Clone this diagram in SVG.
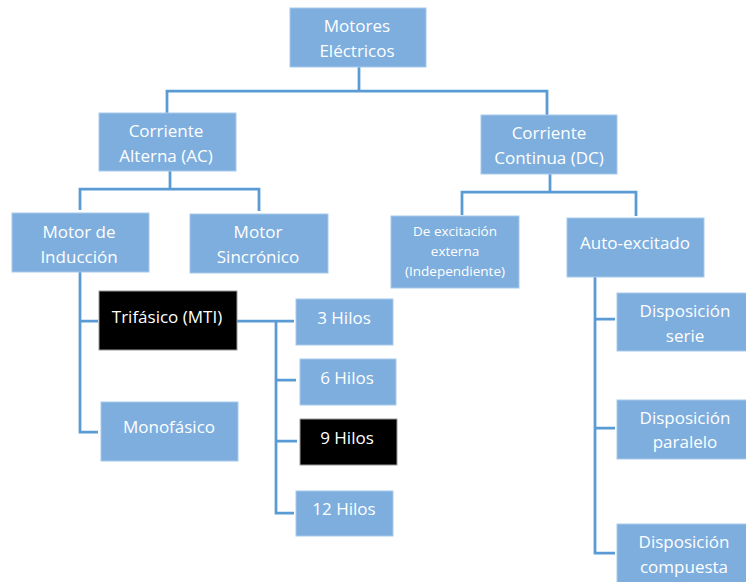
<svg xmlns="http://www.w3.org/2000/svg" width="746" height="582" viewBox="0 0 746 582">
  <style>
    .box { fill: #7DAEDE; stroke: #A8CAEB; stroke-width: 1; }
    .dark { fill: #000000; stroke: #9A9A9A; stroke-width: 1; }
    .lbl { font-family: "Open Sans", "Liberation Sans", sans-serif; font-size: 17px; fill: #FFFFFF; text-anchor: middle; }
    .sm { font-size: 13.5px; }
    .wire { fill: none; stroke: #5B9BD5; stroke-width: 2.75; stroke-linejoin: miter; }
  </style>
  <rect width="746" height="582" fill="#FFFFFF"/>

  <!-- connectors -->
  <g id="connectors">
    <path class="wire" d="M359 67 V91 M167 113 V91 H547 V115"/>
    <path class="wire" d="M170 171 V189 M80 210 V189 H259 V211"/>
    <path class="wire" d="M550 174 V192 M462 215 V192 H636 V216"/>
    <path class="wire" d="M80 272 V432 H98 M80 321 H98"/>
    <path class="wire" d="M237 321 H294 M276 321 V513 H294 M276 380 H296 M276 441 H297"/>
    <path class="wire" d="M595 277 V553 H615 M595 319 H615 M595 428 H615"/>
  </g>

  <g id="motores">
    <rect class="box" x="290" y="8" width="136" height="59"/>
    <text class="lbl" x="357" y="32">Motores</text>
    <text class="lbl" x="357" y="57">Eléctricos</text>
  </g>

  <g id="ac">
    <rect class="box" x="99" y="113" width="137" height="58"/>
    <text class="lbl" x="166" y="137">Corriente</text>
    <text class="lbl" x="166" y="162">Alterna (AC)</text>
  </g>

  <g id="dc">
    <rect class="box" x="481" y="115" width="136" height="59"/>
    <text class="lbl" x="549" y="139">Corriente</text>
    <text class="lbl" x="549" y="164">Continua (DC)</text>
  </g>

  <g id="induccion">
    <rect class="box" x="12" y="213" width="137" height="59"/>
    <text class="lbl" x="79" y="238">Motor de</text>
    <text class="lbl" x="79" y="263">Inducción</text>
  </g>

  <g id="sincronico">
    <rect class="box" x="190" y="214" width="138" height="59"/>
    <text class="lbl" x="258" y="238">Motor</text>
    <text class="lbl" x="258" y="263">Sincrónico</text>
  </g>

  <g id="excitacion-externa">
    <rect class="box" x="391" y="216" width="128" height="72"/>
    <text class="lbl sm" x="455" y="236">De excitación</text>
    <text class="lbl sm" x="455" y="256">externa</text>
    <text class="lbl sm" x="455" y="276">(Independiente)</text>
  </g>

  <g id="auto-excitado">
    <rect class="box" x="567" y="218" width="137" height="59"/>
    <text class="lbl" x="635" y="249">Auto-excitado</text>
  </g>

  <g id="trifasico">
    <rect class="dark" x="99" y="291" width="138" height="59"/>
    <text class="lbl" x="167" y="323">Trifásico (MTI)</text>
  </g>

  <g id="monofasico">
    <rect class="box" x="101" y="402" width="137" height="59"/>
    <text class="lbl" x="169" y="433">Monofásico</text>
  </g>

  <g id="hilos-3">
    <rect class="box" x="296" y="299" width="97" height="46"/>
    <text class="lbl" x="344" y="324">3 Hilos</text>
  </g>

  <g id="hilos-6">
    <rect class="box" x="300" y="359" width="96" height="46"/>
    <text class="lbl" x="347" y="384">6 Hilos</text>
  </g>

  <g id="hilos-9">
    <rect class="dark" x="300" y="419" width="97" height="46"/>
    <text class="lbl" x="347" y="444">9 Hilos</text>
  </g>

  <g id="hilos-12">
    <rect class="box" x="296" y="491" width="97" height="45"/>
    <text class="lbl" x="344" y="515">12 Hilos</text>
  </g>

  <g id="serie">
    <rect class="box" x="617" y="293" width="137" height="58"/>
    <text class="lbl" x="685" y="317">Disposición</text>
    <text class="lbl" x="685" y="342">serie</text>
  </g>

  <g id="paralelo">
    <rect class="box" x="617" y="400" width="137" height="59"/>
    <text class="lbl" x="685" y="424">Disposición</text>
    <text class="lbl" x="685" y="448">paralelo</text>
  </g>

  <g id="compuesta">
    <rect class="box" x="617" y="524" width="137" height="62"/>
    <text class="lbl" x="684" y="548">Disposición</text>
    <text class="lbl" x="684" y="573">compuesta</text>
  </g>
</svg>
